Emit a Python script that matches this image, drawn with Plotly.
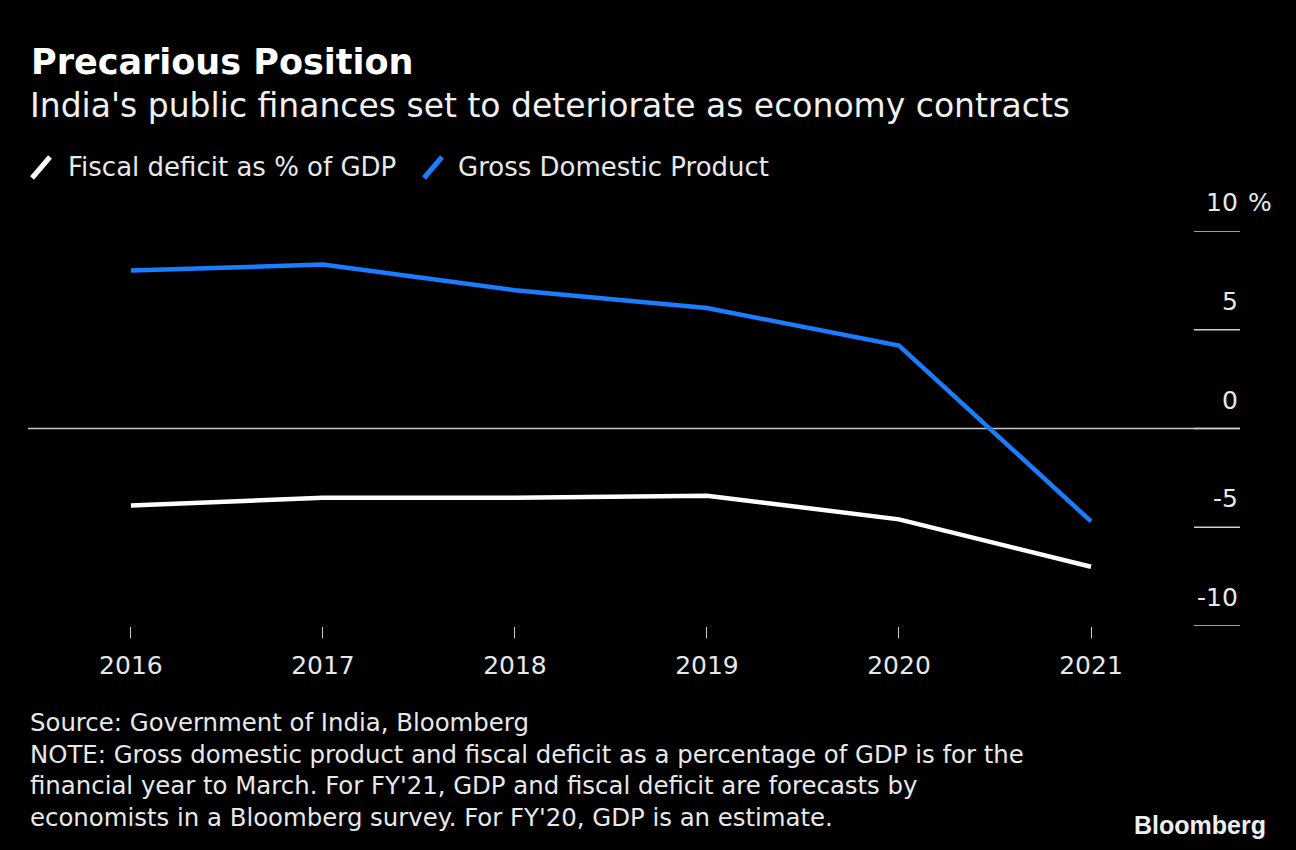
import plotly.graph_objects as go

years = [2016, 2017, 2018, 2019, 2020, 2021]
fiscal_deficit = [-3.9, -3.5, -3.5, -3.4, -4.6, -7.0]
gdp_growth = [8.0, 8.3, 7.0, 6.1, 4.2, -4.7]
y_ticks = [10, 5, 0, -5, -10]
y_tick_labels = ["10", "5", "0", "-5", "-10"]
note_lines = [
    "Source: Government of India, Bloomberg",
    "NOTE: Gross domestic product and fiscal deficit as a percentage of GDP is for the",
    "financial year to March. For FY'21, GDP and fiscal deficit are forecasts by",
    "economists in a Bloomberg survey. For FY'20, GDP is an estimate.",
]

FONT = "DejaVu Sans"
WHITE = "#ffffff"
TXT = "#e8e8e8"
BLUE = "#1a7cff"

fig = go.Figure()
fig.add_trace(go.Scatter(x=years, y=fiscal_deficit, mode="lines",
                         line=dict(color=WHITE, width=4.5), showlegend=False,
                         name="Fiscal deficit as % of GDP"))
fig.add_trace(go.Scatter(x=years, y=gdp_growth, mode="lines",
                         line=dict(color=BLUE, width=4.5), showlegend=False,
                         name="Gross Domestic Product"))

# zero line
fig.add_shape(type="line", xref="paper", yref="y", x0=0, x1=1, y0=0, y1=0,
              line=dict(color="#c8c8c8", width=1.5), layer="below")

# right-side custom y ticks
for v, lab in zip(y_ticks, y_tick_labels):
    fig.add_shape(type="line", xref="paper", yref="y", x0=0.962, x1=1.0, y0=v, y1=v,
                  line=dict(color="#d0d0d0", width=1.5))
    fig.add_annotation(xref="paper", yref="y", x=1.0, y=v, text=lab, showarrow=False,
                       xanchor="right", yanchor="bottom", yshift=12,
                       font=dict(family=FONT, size=25, color=TXT))
fig.add_annotation(xref="paper", yref="y", x=1.0, y=10, text="%", showarrow=False,
                   xanchor="left", yanchor="bottom", yshift=12, xshift=6,
                   font=dict(family=FONT, size=25, color=TXT))

# titles
fig.add_annotation(xref="paper", yref="paper", x=0, y=1, yshift=169, xshift=1,
                   text="<b>Precarious Position</b>",
                   showarrow=False, xanchor="left", yanchor="middle",
                   font=dict(family=FONT, size=35, color=WHITE))
fig.add_annotation(xref="paper", yref="paper", x=0, y=1, yshift=126,
                   text="India's public finances set to deteriorate as economy contracts",
                   showarrow=False, xanchor="left", yanchor="middle",
                   font=dict(family=FONT, size=33, color="#f0f0f0"))

# custom legend
leg_items = [("Fiscal deficit as % of GDP", WHITE, 66, 30),
             ("Gross Domestic Product", BLUE, 456, 422)]
for text, col, tx, sx in leg_items:
    fig.add_shape(type="line", xref="paper", yref="paper",
                  x0=(sx + 2 - 28) / 1212, x1=(sx + 20 - 28) / 1212,
                  y0=1 + (231 - 178) / 395, y1=1 + (231 - 157) / 395,
                  line=dict(color=col, width=5))
    fig.add_annotation(xref="paper", yref="paper", x=(tx - 28) / 1212, y=1, yshift=64,
                       text=text, showarrow=False, xanchor="left", yanchor="middle",
                       font=dict(family=FONT, size=26, color=TXT))

# footnotes
fig.add_annotation(xref="paper", yref="paper", x=0, y=0, yshift=-(722 - 626) + 16,
                   text="<br>".join(note_lines), showarrow=False, xanchor="left", yanchor="top",
                   align="left", font=dict(family=FONT, size=24.4, color=TXT))
fig.add_annotation(xref="paper", yref="paper", x=1.0, y=0, yshift=-(825 - 626), xshift=28,
                   text="<b>Bloomberg</b>", showarrow=False, xanchor="right", yanchor="middle",
                   font=dict(family="Liberation Sans", size=25, color="#eeeeee"))

fig.update_layout(
    width=1296, height=850,
    paper_bgcolor="#000000", plot_bgcolor="#000000",
    margin=dict(l=28, r=56, t=231, b=224),
    xaxis=dict(range=[2015.464, 2021.776], tickvals=years, ticktext=[str(y) for y in years],
               showgrid=False, zeroline=False, showline=False,
               ticks="outside", ticklen=11, tickwidth=1, tickcolor="#cccccc",
               ticklabelstandoff=6,
               tickfont=dict(family=FONT, size=25, color=TXT)),
    yaxis=dict(range=[-10, 10], showgrid=False, zeroline=False, showticklabels=False,
               showline=False),
    showlegend=False,
)

fig.write_html("out.html", config={"displayModeBar": False},
               post_script="document.body.style.margin='0';document.body.style.background='#000';")
